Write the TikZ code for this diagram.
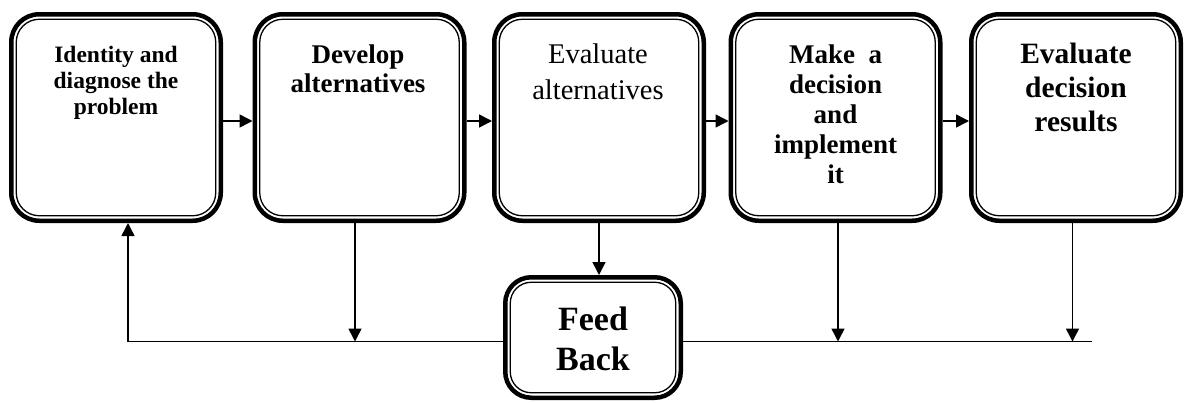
\documentclass[tikz,border=0pt]{standalone}
\usepackage{fontspec}
\setmainfont{Liberation Serif}
\usetikzlibrary{arrows.meta}

\begin{document}
\begin{tikzpicture}[x=1pt,y=-1pt,
  stepbox/.style={draw, line width=4.5pt, rounded corners=28pt,
    minimum width=209.5pt, minimum height=206.5pt, inner sep=0pt},
  fbbox/.style={draw, line width=4.5pt, rounded corners=26pt,
    minimum width=175.5pt, minimum height=120.5pt, inner sep=0pt},
  innerline/.style={line width=1.3pt},
  link/.style={line width=1.5pt, -{Triangle[length=13pt,width=13pt]}},
  plain/.style={line width=1.5pt},
  txt/.style={anchor=base, inner sep=0pt}
]
\fill[white] (0,0) rectangle (1189,402);
\useasboundingbox (0,0) rectangle (1189,402);

% process steps
\node[stepbox] (b1) at (116,117.5) {};
\node[stepbox] (b2) at (359.5,117.5) {};
\node[stepbox] (b3) at (599,117.5) {};
\node[stepbox] (b4) at (835.5,117.5) {};
\node[stepbox] (b5) at (1076,117.5) {};
% feedback box
\node[fbbox] (fb) at (593,337.5) {};

% thin inner outlines
\foreach \n in {b1,b2,b3,b4,b5}
  \draw[innerline, rounded corners=23pt]
    ([shift={(7.25,-7.25)}]\n.south west) rectangle ([shift={(-7.25,7.25)}]\n.north east);
\draw[innerline, rounded corners=21pt]
  ([shift={(7.25,-7.25)}]fb.south west) rectangle ([shift={(-7.25,7.25)}]fb.north east);

% labels
\node[txt] (t1) at (116,62) {\parbox[t]{200pt}{\centering\fontsize{23.5}{26}\bfseries\selectfont
  Identity and\\ diagnose the\\ problem}};
\node[txt] (t2) at (358,63) {\parbox[t]{200pt}{\centering\fontsize{27}{29}\bfseries\selectfont
  Develop\\ alternatives}};
\node[txt] (t3) at (598,63) {\parbox[t]{200pt}{\centering\fontsize{28.5}{36}\selectfont
  Evaluate\\ alternatives}};
\node[txt] (t4) at (835.5,63) {\parbox[t]{200pt}{\centering\fontsize{27}{30}\bfseries\selectfont
  Make~ a\\ decision\\ and\\ implement\\ it}};
\node[txt] (t5) at (1076,63) {\parbox[t]{200pt}{\centering\fontsize{29.5}{34}\bfseries\selectfont
  Evaluate\\ decision\\ results}};
\node[txt] (t6) at (593,330) {\parbox[t]{170pt}{\centering\fontsize{34}{40}\bfseries\selectfont
  Feed\\ Back}};

% forward arrows between steps
\coordinate (ah) at (0,121);
\draw[link] (b1.east |- ah) -- (b2.west |- ah);
\draw[link] (b2.east |- ah) -- (b3.west |- ah);
\draw[link] (b3.east |- ah) -- (b4.west |- ah);
\draw[link] (b4.east |- ah) -- (b5.west |- ah);

% feedback loop
\coordinate (L) at (128,341.5);
\coordinate (R) at (1092,341.5);
\draw[link] (b3.south) -- (b3.south |- fb.north);
\draw[plain] (fb.west |- L) -- (L);
\draw[link] (L) -- (b1.south -| L);
\draw[plain] (fb.east |- L) -- (R);
\draw[link] ([xshift=-4.5pt]b2.south) -- ([xshift=-4.5pt]b2.south |- L);
\draw[link] ([xshift=2.5pt]b4.south) -- ([xshift=2.5pt]b4.south |- L);
\draw[link] ([xshift=-3.5pt]b5.south) -- ([xshift=-3.5pt]b5.south |- L);
\end{tikzpicture}
\end{document}
